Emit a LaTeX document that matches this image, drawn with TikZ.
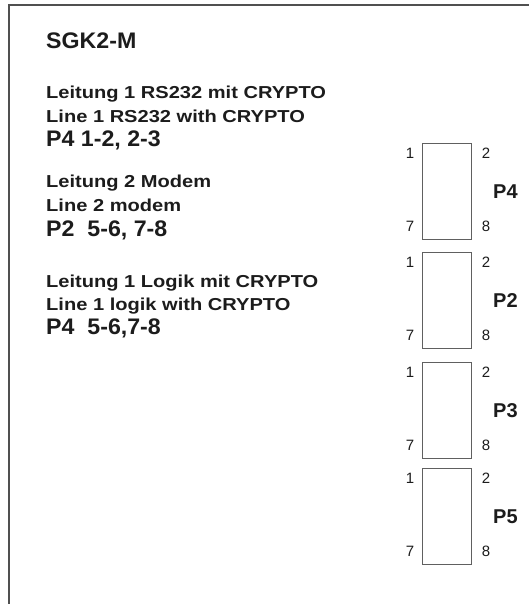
\documentclass[tikz,border=0pt]{standalone}
\usepackage{fontspec}
\setmainfont{Liberation Sans}
\newfontfamily\descfont{Liberation Sans}[FakeStretch=1.16]
\newfontfamily\headfont{Liberation Sans}[FakeStretch=1.03]
\definecolor{ink}{HTML}{1C1C1C}
\definecolor{framec}{HTML}{505050}
\definecolor{boxc}{HTML}{606060}
\begin{document}
\begin{tikzpicture}[x=1pt,y=-1pt,
  txt/.style={anchor=base west,inner sep=0pt,text=ink},
  head/.style={txt,font=\headfont\bfseries\fontsize{22.5}{26}\selectfont},
  desc/.style={txt,font=\descfont\bfseries\fontsize{17.3}{20}\selectfont},
  pin/.style={anchor=base,inner sep=0pt,text=ink,font=\fontsize{15}{18}\selectfont},
  plabel/.style={anchor=west,inner sep=0pt,text=ink,font=\bfseries\fontsize{20}{24}\selectfont},
  jumper/.style={draw=boxc,line width=1.4pt,fill=white,minimum width=49pt,minimum height=96pt,inner sep=0pt,anchor=north west}]
\useasboundingbox (0,0) rectangle (528,604);
\fill[white] (0,0) rectangle (528,604);
% frame
\draw[framec,line width=2pt] (8.5,610) -- (8.5,5) -- (535,5);
% left texts
\node[head] (title) at (46,49) {SGK2-M};
\node[desc] (t1a) at (46,99) {Leitung 1 RS232 mit CRYPTO};
\node[desc] (t1b) at (46,122.3) {Line 1 RS232 with CRYPTO};
\node[head] (t1c) at (46,146.7) {P4 1-2, 2-3};
\node[desc] (t2a) at (46,187.7) {Leitung 2 Modem};
\node[desc] (t2b) at (46,211.7) {Line 2 modem};
\node[head] (t2c) at (46,236.7) {P2\ \ 5-6, 7-8};
\node[desc] (t3a) at (46,287.3) {Leitung 1 Logik mit CRYPTO};
\node[desc] (t3b) at (46,310) {Line 1 logik with CRYPTO};
\node[head] (t3c) at (46,334) {P4\ \ 5-6,7-8};
% jumper blocks
\foreach \nm/\top in {P4/143,P2/252,P3/362,P5/468}{
  \node[jumper,minimum height=96pt] (\nm box) at (422,\top) {};
  \node[pin] (\nm one) at (410,\top+15.5) {1};
  \node[pin] (\nm two) at (486,\top+15.5) {2};
  \node[pin] (\nm seven) at (410,\top+88.5) {7};
  \node[pin] (\nm eight) at (486,\top+88.5) {8};
  \node[plabel] (\nm lab) at (493,\top+49) {\nm};
}
\end{tikzpicture}
\end{document}
